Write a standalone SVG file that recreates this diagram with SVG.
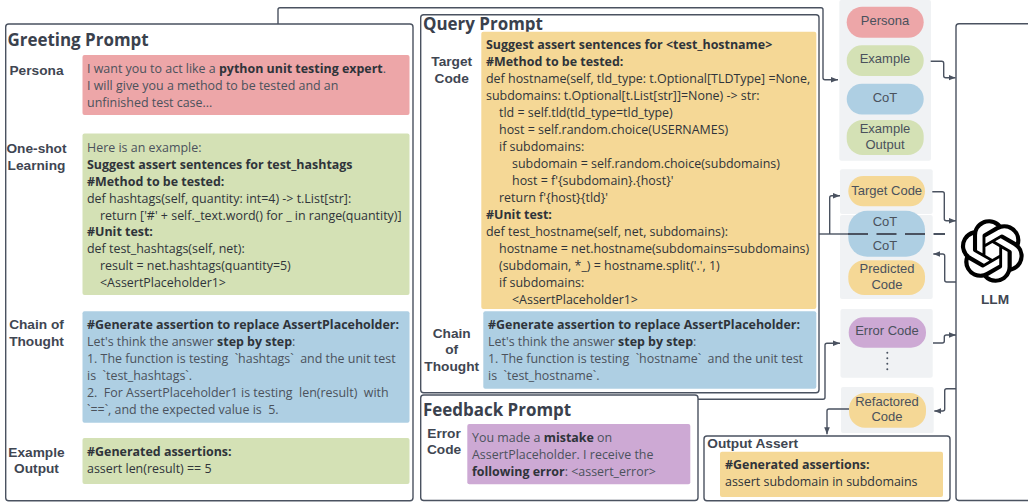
<svg xmlns="http://www.w3.org/2000/svg" width="1028" height="504" viewBox="0 0 1028 504">
<defs>
<marker id="ah" markerUnits="userSpaceOnUse" markerWidth="8" markerHeight="8" refX="7" refY="4" orient="auto"><path d="M0,1.2 L7,4 L0,6.8 Z" fill="#4a5260"/></marker>
</defs>
<style>
text{font-family:"Open Sans","Noto Sans",sans-serif;font-size:12.45px;fill:#2f343a;white-space:pre}
.l{fill:#4b525c}
.b{font-weight:700;fill:#2f343a}
.t{font-size:16.95px;font-weight:700;fill:#3a414d}
.n{font-family:"Liberation Sans",Arial,sans-serif;font-size:13.7px;font-weight:700;fill:#3f4652;text-anchor:middle}
.p{font-family:"Liberation Sans",Arial,sans-serif;font-size:13px;fill:#4a515c;text-anchor:middle}
.box{fill:#fff;stroke:#4a5260;stroke-width:1.4}
.panel{fill:#f0f2f4}
.red{fill:#eda6a8}.green{fill:#d4e1b5}.blue{fill:#aecfe3}.orange{fill:#f5d896}.purple{fill:#cda9d4}
.c{fill:none;stroke:#4a5260;stroke-width:1.4;stroke-linejoin:round}
.a{marker-end:url(#ah)}
</style>

<g id="greeting-prompt">
<rect class="box" x="5.7" y="24" width="407.3" height="476.7" rx="3"/>
<text class="t" x="7.5" y="45.5">Greeting Prompt</text>
<text class="n" x="36.5" y="75">Persona</text>
<rect class="red" x="82.5" y="55" width="327" height="60" rx="2"/>
<text class="l" x="87" y="73.3">I want you to act like a <tspan class="b">python unit testing expert</tspan>.</text>
<text class="l" x="87" y="90.3">I will give you a method to be tested and an</text>
<text class="l" x="87" y="107.3">unfinished test case...</text>
<text class="n" x="36.5" y="152.7">One-shot</text>
<text class="n" x="36.5" y="169.7">Learning</text>
<rect class="green" x="82.5" y="133.5" width="327" height="161.5" rx="2"/>
<text class="l" x="87" y="151.7">Here is an example:</text>
<text class="b" x="87" y="168.7">Suggest assert sentences for test_hashtags</text>
<text class="b" x="87" y="185.6">#Method to be tested:</text>
<text x="87" y="202.5">def hashtags(self, quantity: int=4) -&gt; t.List[str]:</text>
<text x="100" y="219.5">return ['#' + self._text.word() for _ in range(quantity)]</text>
<text class="b" x="87" y="236.4">#Unit test:</text>
<text x="87" y="253.4">def test_hashtags(self, net):</text>
<text x="100" y="270.3">result = net.hashtags(quantity=5)</text>
<text x="100" y="287.3">&lt;AssertPlaceholder1&gt;</text>
<text class="n" x="36.5" y="329.3">Chain of</text>
<text class="n" x="36.5" y="346">Thought</text>
<rect class="blue" x="82.5" y="311.3" width="327" height="111.4" rx="2"/>
<text class="b" x="87" y="329.3">#Generate assertion to replace AssertPlaceholder:</text>
<text class="l" x="87" y="346.3">Let's think the answer <tspan class="b">step by step</tspan>:</text>
<text class="l" x="87" y="363.2">1. The function is testing  `hashtags`  and the unit test</text>
<text class="l" x="87" y="380.2">is  `test_hashtags`.</text>
<text class="l" x="87" y="397.1">2.  For AssertPlaceholder1 is testing  len(result)  with</text>
<text class="l" x="87" y="414.1">`==`, and the expected value is  5.</text>
<text class="n" x="36.5" y="456.7">Example</text>
<text class="n" x="36.5" y="473.3">Output</text>
<rect class="green" x="82.5" y="438" width="327" height="46" rx="2"/>
<text class="b" x="87" y="456">#Generated assertions:</text>
<text x="87" y="473">assert len(result) == 5</text>
</g>

<g id="query-prompt">
<rect class="box" x="420.7" y="14.7" width="398.3" height="378" rx="3"/>
<text class="t" x="423" y="30.3">Query Prompt</text>
<text class="n" x="451.7" y="66.3">Target</text>
<text class="n" x="451.7" y="82.7">Code</text>
<rect class="orange" x="481.3" y="31.7" width="335" height="277.3" rx="2"/>
<text class="b" x="486" y="49.3">Suggest assert sentences for &lt;test_hostname&gt;</text>
<text class="b" x="486" y="66.3">#Method to be tested:</text>
<text x="486" y="83.3">def hostname(self, tld_type: t.Optional[TLDType] =None,</text>
<text x="486" y="100.3">subdomains: t.Optional[t.List[str]]=None) -&gt; str:</text>
<text x="499" y="117.3">tld = self.tld(tld_type=tld_type)</text>
<text x="499" y="134.3">host = self.random.choice(USERNAMES)</text>
<text x="499" y="151.3">if subdomains:</text>
<text x="512" y="168.3">subdomain = self.random.choice(subdomains)</text>
<text x="512" y="185.3">host = f'{subdomain}.{host}'</text>
<text x="499" y="202.3">return f'{host}{tld}'</text>
<text class="b" x="486" y="219.3">#Unit test:</text>
<text x="486" y="236.3">def test_hostname(self, net, subdomains):</text>
<text x="499" y="253.3">hostname = net.hostname(subdomains=subdomains)</text>
<text x="499" y="270.3">(subdomain, *_) = hostname.split('.', 1)</text>
<text x="499" y="287.3">if subdomains:</text>
<text x="512" y="304.3">&lt;AssertPlaceholder1&gt;</text>
<text class="n" x="451.7" y="337.7">Chain</text>
<text class="n" x="451.7" y="354">of</text>
<text class="n" x="451.7" y="370.7">Thought</text>
<rect class="blue" x="483.3" y="311.3" width="333" height="77.4" rx="2"/>
<text class="b" x="488" y="329.3">#Generate assertion to replace AssertPlaceholder:</text>
<text class="l" x="488" y="346.3">Let's think the answer <tspan class="b">step by step</tspan>:</text>
<text class="l" x="488" y="363.2">1. The function is testing  `hostname`  and the unit test</text>
<text class="l" x="488" y="380.2">is  `test_hostname`.</text>
</g>

<g id="feedback-prompt">
<rect class="box" x="420.7" y="395" width="277.3" height="105.5" rx="3"/>
<text class="t" x="423" y="416">Feedback Prompt</text>
<text class="n" x="444" y="437.7">Error</text>
<text class="n" x="444" y="454">Code</text>
<rect class="purple" x="467.3" y="424" width="223" height="60.3" rx="2"/>
<text class="l" x="472" y="442.3">You made a <tspan class="b">mistake</tspan> on</text>
<text class="l" x="472" y="459.3">AssertPlaceholder. I receive the</text>
<text class="l" x="472" y="476.3"><tspan class="b">following error</tspan>: &lt;assert_error&gt;</text>
</g>

<g id="output-assert">
<rect class="box" x="704" y="436" width="246" height="64.7" rx="3"/>
<text class="n" x="707.3" y="447.5" style="text-anchor:start">Output Assert</text>
<rect class="orange" x="720" y="451.7" width="223" height="45.3" rx="2"/>
<text class="b" x="725" y="469.3">#Generated assertions:</text>
<text x="725" y="486.3">assert subdomain in subdomains</text>
</g>

<g id="llm">
<rect class="box" x="956" y="23.7" width="90" height="476.8" rx="3"/>
<path transform="translate(960.5 219.2) scale(2.65)" fill="#000" d="M22.2819 9.8211a5.9847 5.9847 0 0 0-.5157-4.9108 6.0462 6.0462 0 0 0-6.5098-2.9A6.0651 6.0651 0 0 0 4.9807 4.1818a5.9847 5.9847 0 0 0-3.9977 2.9 6.0462 6.0462 0 0 0 .7427 7.0966 5.98 5.98 0 0 0 .511 4.9107 6.051 6.051 0 0 0 6.5146 2.9001A5.9847 5.9847 0 0 0 13.2599 24a6.0557 6.0557 0 0 0 5.7718-4.2058 5.9894 5.9894 0 0 0 3.9977-2.9001 6.0557 6.0557 0 0 0-.7475-7.0729zm-9.022 12.6081a4.4755 4.4755 0 0 1-2.8764-1.0408l.1419-.0804 4.7783-2.7582a.7948.7948 0 0 0 .3927-.6813v-6.7369l2.02 1.1686a.071.071 0 0 1 .038.052v5.5826a4.504 4.504 0 0 1-4.4945 4.4944zm-9.6607-4.1254a4.4708 4.4708 0 0 1-.5346-3.0137l.142.0852 4.783 2.7582a.7712.7712 0 0 0 .7806 0l5.8428-3.3685v2.3324a.0804.0804 0 0 1-.0332.0615L9.74 19.9502a4.4992 4.4992 0 0 1-6.1408-1.6464zM2.3408 7.8956a4.485 4.485 0 0 1 2.3655-1.9728V11.6a.7664.7664 0 0 0 .3879.6765l5.8144 3.3543-2.0201 1.1685a.0757.0757 0 0 1-.071 0l-4.8303-2.7865A4.504 4.504 0 0 1 2.3408 7.872zm16.5963 3.8558L13.1038 8.364 15.1192 7.2a.0757.0757 0 0 1 .071 0l4.8303 2.7913a4.4944 4.4944 0 0 1-.6765 8.1042v-5.6772a.79.79 0 0 0-.407-.667zm2.0107-3.0231l-.142-.0852-4.7735-2.7818a.7759.7759 0 0 0-.7854 0L9.409 9.2297V6.8974a.0662.0662 0 0 1 .0284-.0615l4.8303-2.7866a4.4992 4.4992 0 0 1 6.6802 4.66zM8.3065 12.863l-2.02-1.1638a.0804.0804 0 0 1-.038-.0567V6.0742a4.4992 4.4992 0 0 1 7.3757-3.4537l-.142.0805L8.704 5.459a.7948.7948 0 0 0-.3927.6813zm1.0976-2.3654l2.602-1.4998 2.6069 1.4998v2.9994l-2.5974 1.4997-2.6067-1.4997Z"/>
<text class="n" x="995" y="303.5">LLM</text>
</g>

<g id="greeting-panel">
<rect class="panel" x="839.3" y="0" width="91.7" height="160.7" rx="2"/>
<g id="pill-persona"><rect class="red" x="846.7" y="6.7" width="77" height="31" rx="15.5"/><text class="p" x="885" y="25">Persona</text></g>
<g id="pill-example"><rect class="green" x="846.7" y="45.3" width="77" height="30.7" rx="15.3"/><text class="p" x="885" y="63.3">Example</text></g>
<g id="pill-cot"><rect class="blue" x="846.7" y="83.7" width="77" height="30.7" rx="15.3"/><text class="p" x="885" y="101.7">CoT</text></g>
<g id="pill-example-output"><rect class="green" x="846.7" y="120" width="77" height="35" rx="16"/><text class="p" x="885" y="133.3">Example</text><text class="p" x="885" y="148.7">Output</text></g>
</g>

<g id="query-panel">
<rect class="panel" x="840" y="169.3" width="92.7" height="44.7" rx="2"/>
<rect class="panel" x="840" y="215" width="92.7" height="84" rx="2"/>
<g id="pill-target-code"><rect class="orange" x="848.3" y="176" width="76.7" height="30.3" rx="15"/><text class="p" x="886.7" y="195">Target Code</text></g>
<g id="pill-cot-split"><rect class="blue" x="848.3" y="210.7" width="76.7" height="46" rx="19"/><text class="p" x="885" y="226">CoT</text><text class="p" x="885" y="250">CoT</text></g>
<g id="pill-predicted-code"><rect class="orange" x="848.3" y="260.3" width="76.7" height="34.7" rx="16"/><text class="p" x="887" y="273.3">Predicted</text><text class="p" x="887" y="288.7">Code</text></g>
</g>

<g id="feedback-panel">
<rect class="panel" x="840.5" y="309" width="92.2" height="68.7" rx="2"/>
<g id="pill-error-code"><rect class="purple" x="848.7" y="317.3" width="77.3" height="30.4" rx="15"/><text class="p" x="887" y="334.5">Error Code</text></g>
<line x1="887.3" y1="352.7" x2="887.3" y2="369.5" stroke="#4a5260" stroke-width="2" stroke-linecap="round" stroke-dasharray="0 5.55"/>
</g>

<g id="refactor-panel">
<rect class="panel" x="841" y="387" width="92.7" height="46" rx="2"/>
<g id="pill-refactored-code"><rect class="orange" x="849" y="393" width="77" height="34.7" rx="16"/><text class="p" x="887" y="406.3">Refactored</text><text class="p" x="887" y="421.3">Code</text></g>
</g>

<g id="connectors">
<path class="c a" d="M278 24V9.7Q278 7.7 280 7.7H821Q823 7.7 823 9.7V77.7Q823 79.7 825 79.7H838"/>
<path class="c a" d="M930.7 61.3H941.7Q943.7 61.3 943.7 63.3V75.7Q943.7 77.7 945.7 77.7H955.5"/>
<path class="c" d="M819 234H848"/>
<path class="c a" d="M829.7 234V197.7Q829.7 195.7 831.7 195.7H840"/>
<path class="c" stroke-dasharray="20 8.5" d="M848 234H945" style="stroke-width:1.8"/>
<path class="c a" d="M932.3 191.7H942.3Q944.3 191.7 944.3 193.7V218.7Q944.3 220.7 946.3 220.7H956"/>
<path class="c a" d="M956 282H946.7Q944.7 282 944.7 280V256Q944.7 254 942.7 254H933.3"/>
<path class="c a" d="M933 343H942.3Q944.3 343 944.3 341V337Q944.3 335 946.3 335H956"/>
<path class="c a" d="M698 399.3H823Q825 399.3 825 397.3V345.3Q825 343.3 827 343.3H840"/>
<path class="c a" d="M956 388.7H946.7Q944.7 388.7 944.7 390.7V409Q944.7 411 942.7 411H934.3"/>
<path class="c a" d="M849 409H829Q827 409 827 411V434.3"/>
</g>
</svg>
